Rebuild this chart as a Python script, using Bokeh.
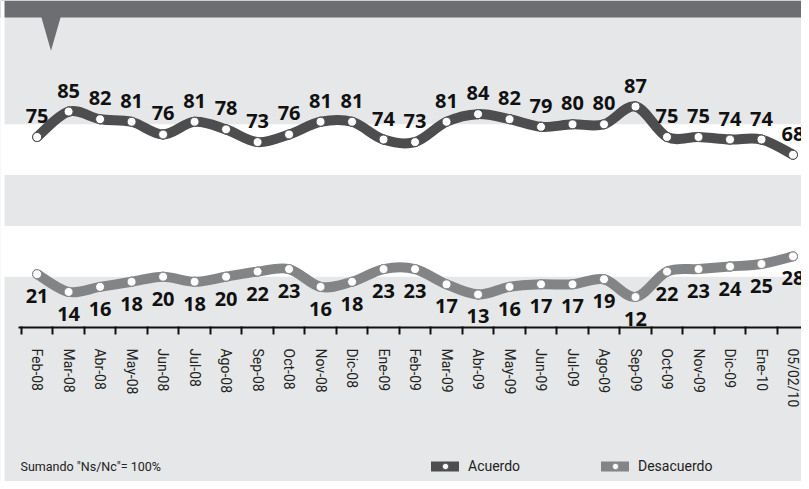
from bokeh.plotting import figure
from bokeh.models import (Range1d, LinearAxis, FixedTicker, BoxAnnotation, Legend,
                          LegendItem, Label, ColumnDataSource)
from bokeh.core.properties import value
from bokeh.embed import file_html
from bokeh.resources import INLINE

# ---------------- data ----------------
months = ["Feb-08", "Mar-08", "Abr-08", "May-08", "Jun-08", "Jul-08", "Ago-08", "Sep-08",
          "Oct-08", "Nov-08", "Dic-08", "Ene-09", "Feb-09", "Mar-09", "Abr-09", "May-09",
          "Jun-09", "Jul-09", "Ago-09", "Sep-09", "Oct-09", "Nov-09", "Dic-09", "Ene-10",
          "05/02/10"]
acuerdo = [75, 85, 82, 81, 76, 81, 78, 73, 76, 81, 81, 74, 73, 81, 84, 82, 79, 80, 80, 87,
           75, 75, 74, 74, 68]
desacuerdo = [21, 14, 16, 18, 20, 18, 20, 22, 23, 16, 18, 23, 23, 17, 13, 16, 17, 17, 19, 12,
              22, 23, 24, 25, 28]
note_text = 'Sumando "Ns/Nc"= 100%'
series_names = ["Acuerdo", "Desacuerdo"]

# ---------------- styles ----------------
BG = "#e6e7e8"
DARK_BAND = "#6d6e71"
C_AC = "#4d4d4f"
C_DE = "#838486"

idx = list(range(len(months)))


def bezier_source(xs, ys, t=1.0):
    n = len(xs)
    d = dict(x0=[], y0=[], x1=[], y1=[], cx0=[], cy0=[], cx1=[], cy1=[])
    for i in range(n - 1):
        pm = max(i - 1, 0)
        pp = min(i + 2, n - 1)
        d["x0"].append(xs[i]); d["y0"].append(ys[i])
        d["x1"].append(xs[i + 1]); d["y1"].append(ys[i + 1])
        d["cx0"].append(xs[i] + (xs[i + 1] - xs[pm]) / 6 * t)
        d["cy0"].append(ys[i] + (ys[i + 1] - ys[pm]) / 6 * t)
        d["cx1"].append(xs[i + 1] - (xs[pp] - xs[i]) / 6 * t)
        d["cy1"].append(ys[i + 1] - (ys[pp] - ys[i]) / 6 * t)
    return ColumnDataSource(d)


p = figure(width=801, height=481, output_backend="svg", toolbar_location=None,
           x_axis_type=None, y_axis_type=None,
           x_range=Range1d(-1.162, 24.27), y_range=Range1d(-60.63, 128.74),
           min_border=0, min_border_left=0, min_border_right=0,
           min_border_top=0, min_border_bottom=0)
p.background_fill_color = BG
p.border_fill_color = BG
p.outline_line_color = None

# bands
p.add_layout(BoxAnnotation(bottom=60, top=80, fill_color="white", fill_alpha=1,
                           line_color=None, level="underlay"))
p.add_layout(BoxAnnotation(bottom=20, top=40, fill_color="white", fill_alpha=1,
                           line_color=None, level="underlay"))
p.add_layout(BoxAnnotation(bottom=122, fill_color=DARK_BAND, fill_alpha=1,
                           line_color=None, level="underlay"))
p.add_layout(BoxAnnotation(right=4, right_units="screen", fill_color="white", fill_alpha=1,
                           line_color=None, level="underlay"))
# pointer
p.patch(x=[0.127, 0.756, 0.441], y=[122.5, 122.5, 109], color=DARK_BAND, line_color=None)

# lines
b_ac = p.bezier(x0="x0", y0="y0", x1="x1", y1="y1", cx0="cx0", cy0="cy0", cx1="cx1", cy1="cy1",
                source=bezier_source(idx, acuerdo), line_color=C_AC, line_width=10,
                line_cap="round")
b_de = p.bezier(x0="x0", y0="y0", x1="x1", y1="y1", cx0="cx0", cy0="cy0", cx1="cx1", cy1="cy1",
                source=bezier_source(idx, desacuerdo), line_color=C_DE, line_width=10,
                line_cap="round")

s_ac = p.scatter(idx, acuerdo, size=9, fill_color="white", line_color=C_AC, line_width=1)
s_de = p.scatter(idx, desacuerdo, size=9, fill_color="white", line_color=C_DE, line_width=1)

# value labels
p.text(idx, acuerdo, text=[str(v) for v in acuerdo], y_offset=-21,
       text_align="center", text_baseline="middle", text_font=value("Open Sans"),
       text_font_style="bold", text_font_size="20px", text_color="#111111")
p.text(idx, desacuerdo, text=[str(v) for v in desacuerdo], y_offset=22,
       text_align="center", text_baseline="middle", text_font=value("Open Sans"),
       text_font_style="bold", text_font_size="20px", text_color="#111111")

# x axis
ax = LinearAxis(ticker=FixedTicker(ticks=idx,
                                   minor_ticks=[i - 0.5 for i in range(len(months) + 1)]),
                fixed_location=0, bounds=(-0.575, 24.3))
ax.major_label_overrides = {i: m for i, m in zip(idx, months)}
ax.major_label_orientation = "vertical"
ax.major_tick_out = 0
ax.major_tick_in = 0
ax.minor_tick_out = 7
ax.minor_tick_in = 1
ax.minor_tick_line_color = "#111111"
ax.minor_tick_line_width = 2
ax.axis_line_color = "#111111"
ax.axis_line_width = 2
ax.major_label_standoff = 14
ax.major_label_text_font = "Roboto"
ax.major_label_text_font_size = "14px"
ax.major_label_text_color = "#222222"
p.add_layout(ax, "below")

# legend
for name, rends, xloc in [(series_names[0], [b_ac, s_ac], 431),
                          (series_names[1], [b_de, s_de], 601)]:
    leg = Legend(items=[LegendItem(label=name, renderers=rends)], location=(xloc, 7),
                 orientation="horizontal", glyph_width=28, glyph_height=16, label_height=16,
                 label_standoff=9, padding=0, margin=0, border_line_color=None,
                 background_fill_alpha=0, label_text_font="Roboto",
                 label_text_font_size="14px", label_text_color="#222222")
    p.add_layout(leg)

p.add_layout(Label(x=20, y=15, x_units="screen", y_units="screen", text=note_text,
                   text_font="Roboto", text_font_size="12.5px", text_baseline="middle",
                   text_color="#222222"))

open("out.html", "w").write(file_html(p, INLINE))
